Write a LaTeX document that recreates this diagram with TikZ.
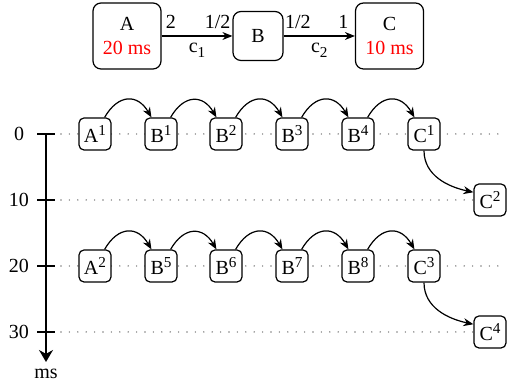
\documentclass[tikz,border=0pt]{standalone}
\usepackage{fontspec}
\setmainfont{Liberation Serif}
\usetikzlibrary{arrows.meta}

% index marks with the size of the drawing's figures
\newcommand{\fup}[1]{\raisebox{3.6pt}{\fontsize{7.6}{8}\selectfont #1}}
\newcommand{\fdn}[1]{\raisebox{-2.6pt}{\fontsize{7.6}{8}\selectfont #1}}

\begin{document}
\begin{tikzpicture}[x=0.5pt,y=-0.5pt,
    actor/.style={draw,semithick,rounded corners=4pt,align=center,
      minimum width=34pt,minimum height=33pt,inner sep=1pt},
    firing/.style={draw,semithick,fill=white,rounded corners=2.5pt,
      minimum size=16pt,inner sep=1pt},
    chan/.style={semithick,-{Stealth[length=5pt,width=4pt]}},
    dep/.style={semithick,-{Stealth[length=5pt,width=4pt]},
      out=60,in=120,looseness=1.5},
    guide/.style={gray,line width=0.8pt,line cap=round,
      dash pattern=on 0pt off 4.2pt},
  ]
  \useasboundingbox (0,0) rectangle (510,383);

  % SDF graph
  \node[actor] (A) at (127,36) {A\\\textcolor{red}{20 ms}};
  \node[actor,minimum width=25pt,minimum height=24.5pt] (B) at (258,36) {B};
  \node[actor] (C) at (389.5,36) {C\\\textcolor{red}{10 ms}};

  \draw[chan] (A) -- node[pos=0.13,above] {2} node[pos=0.79,above] {1/2}
    node[midway,below] {c\fdn{1}} (B);
  \draw[chan] (B) -- node[pos=0.2,above] {1/2} node[pos=0.84,above] {1}
    node[midway,below] {c\fdn{2}} (C);

  % Time axis
  \coordinate (t0) at (46,134);
  \coordinate (tend) at (46,362);
  \draw[thick,-{Stealth[length=6pt,width=7pt]}] (t0) -- (tend);
  \node (ms) at (46,374) {ms};

  % Ticks and guide lines
  \draw[thick] (37,134) -- (55,134);
  \draw[thick] (37,200) -- (55,200);
  \draw[thick] (37,266) -- (55,266);
  \draw[thick] (37,332) -- (55,332);
  \node (l0) at (19,134) {0};
  \node (l10) at (19,200) {10};
  \node (l20) at (19,266) {20};
  \node (l30) at (19,332) {30};
  \draw[guide] (61,134) -- (506,134);
  \draw[guide] (61,200) -- (506,200);
  \draw[guide] (61,266) -- (506,266);
  \draw[guide] (61,332) -- (506,332);

  % First iteration
  \node[firing] (A1) at (95,134) {A\fup{1}};
  \node[firing] (B1) at (161,134) {B\fup{1}};
  \node[firing] (B2) at (226,134) {B\fup{2}};
  \node[firing] (B3) at (292,134) {B\fup{3}};
  \node[firing] (B4) at (358,134) {B\fup{4}};
  \node[firing] (C1) at (424,134) {C\fup{1}};
  \node[firing] (C2) at (490,200) {C\fup{2}};

  \draw[dep] (A1.60) to (B1.120);
  \draw[dep] (B1.60) to (B2.120);
  \draw[dep] (B2.60) to (B3.120);
  \draw[dep] (B3.60) to (B4.120);
  \draw[dep] (B4.60) to (C1.120);
  \draw[chan] (C1.south) to[out=-90,in=168] (C2.155);

  % Second iteration
  \node[firing] (A2) at (95,266) {A\fup{2}};
  \node[firing] (B5) at (161,266) {B\fup{5}};
  \node[firing] (B6) at (226,266) {B\fup{6}};
  \node[firing] (B7) at (292,266) {B\fup{7}};
  \node[firing] (B8) at (358,266) {B\fup{8}};
  \node[firing] (C3) at (424,266) {C\fup{3}};
  \node[firing] (C4) at (490,332) {C\fup{4}};

  \draw[dep] (A2.60) to (B5.120);
  \draw[dep] (B5.60) to (B6.120);
  \draw[dep] (B6.60) to (B7.120);
  \draw[dep] (B7.60) to (B8.120);
  \draw[dep] (B8.60) to (C3.120);
  \draw[chan] (C3.south) to[out=-90,in=168] (C4.155);
\end{tikzpicture}
\end{document}
